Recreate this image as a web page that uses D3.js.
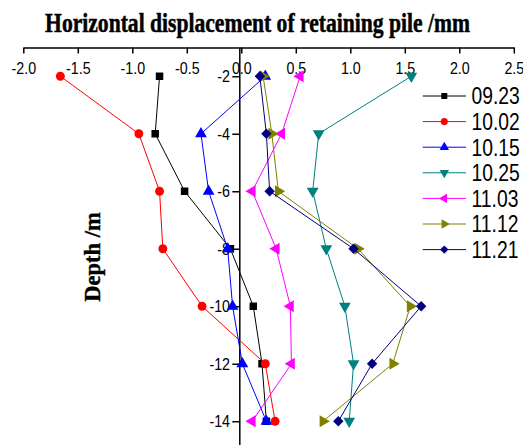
<!DOCTYPE html>
<html>
<head>
<meta charset="utf-8">
<script src="https://cdn.jsdelivr.net/npm/d3@7"></script>
<style>
  body { margin: 0; background: #fff; }
  svg { display: block; }
</style>
</head>
<body>
<script>
// depth readings and the seven survey dates
var depths = [-2, -4, -6, -8, -10, -12, -14];
var dates = ["09.23", "10.02", "10.15", "10.25", "11.03", "11.12", "11.21"];

var s0923 = [-0.75, -0.79, -0.52, -0.10, 0.11, 0.19, 0.23];
var s1002 = [-1.66, -0.94, -0.75, -0.72, -0.36, 0.22, 0.31];
var s1015 = [0.22, -0.37, -0.30, -0.125, -0.08, 0.01, 0.23];
var s1025 = [1.56, 0.71, 0.655, 0.78, 0.95, 1.03, 0.99];
var s1103 = [0.54, 0.37, 0.10, 0.32, 0.45, 0.46, 0.10];
var s1112 = [0.20, 0.28, 0.34, 1.07, 1.55, 1.39, 0.75];
var s1121 = [0.17, 0.23, 0.26, 1.03, 1.65, 1.20, 0.89];

var xTicks = [-2.0, -1.5, -1.0, -0.5, 0.0, 0.5, 1.0, 1.5, 2.0, 2.5];
var yTicks = [-2, -4, -6, -8, -10, -12, -14];

var allSeries = [s0923, s1002, s1015, s1025, s1103, s1112, s1121];
var colors = ["#000000", "#ff0000", "#0000ff", "#008080", "#ff00ff", "#808000", "#000080"];
var shapes = ["square", "circle", "up", "down", "left", "right", "diamond"];

var W = 523, H = 445;
var svg = d3.select("body").append("svg").attr("width", W).attr("height", H);

var x = d3.scaleLinear().domain([-2, 2.5]).range([23.3, 513.8]);
var y = d3.scaleLinear().domain([-1, -15]).range([47.5, 450]);

var sansFont = "'Liberation Sans', Arial, sans-serif";
var serifFont = "'Liberation Serif', 'Times New Roman', serif";
var squeeze = 0.84; // the original text is narrow

// marker path for each shape, sized in px
function marker(shape, k) {
	if (shape == "square") return d3.symbol(d3.symbolSquare, 56 * k * k)();
	if (shape == "circle") return d3.symbol(d3.symbolCircle, 62 * k * k)();
	if (shape == "diamond") return d3.symbol(d3.symbolSquare, 54 * k * k)();
	return d3.symbol(d3.symbolTriangle, 60 * k * k)();
}
function rot(shape) {
	if (shape == "down") return 180;
	if (shape == "left") return -90;
	if (shape == "right") return 90;
	if (shape == "diamond") return 45;
	return 0;
}

// title
svg.append("text")
	.attr("transform", "translate(257.5,31.5)")
	.attr("text-anchor", "middle")
	.style("font-family", serifFont)
	.style("font-weight", "bold")
	.style("font-size", "27px")
	.attr("stroke", "#000")
	.attr("stroke-width", 0.5)
	.text("Horizontal displacement of retaining pile /mm")
	.each(function() {
		var w = this.getComputedTextLength();
		d3.select(this).attr("transform", "translate(257.5,31.5) scale(" + (425 / w) + ",1)");
	});

// y label
svg.append("text")
	.attr("transform", "translate(100,257) rotate(-90)")
	.attr("text-anchor", "middle")
	.style("font-family", serifFont)
	.style("font-weight", "bold")
	.style("font-size", "22.5px")
	.attr("stroke", "#000")
	.attr("stroke-width", 0.4)
	.text("Depth /m");

// top axis
var gx = svg.append("g")
	.attr("transform", "translate(0," + y(-1) + ")")
	.call(d3.axisBottom(x).tickValues(xTicks).tickFormat(d3.format(".1f")).tickSize(6).tickPadding(8).tickSizeOuter(0));

// left axis sits just left of zero
var gy = svg.append("g")
	.attr("transform", "translate(" + (x(0) - 2) + ",0)")
	.call(d3.axisLeft(y).tickValues(yTicks).tickSize(7).tickPadding(4).tickSizeOuter(0));

[gx, gy].forEach(function(g) {
	g.select(".domain").attr("stroke", "#000").attr("stroke-width", 1.5);
	g.selectAll(".tick line").attr("stroke", "#000").attr("stroke-width", 1.5);
	g.selectAll(".tick text")
		.attr("fill", "#000")
		.style("font-family", sansFont)
		.style("font-size", "17px")
		.attr("transform", "scale(" + squeeze + ",1)");
});
gx.selectAll(".tick text").text(function(d) { return d3.format(".1f")(d).replace("\u2212", "-"); });
gy.selectAll(".tick text").text(function(d) { return String(d); });

// series
var line = d3.line()
	.x(function(d) { return x(d[0]); })
	.y(function(d) { return y(d[1]); });

for (var i = 0; i < allSeries.length; i++) {
	var pts = allSeries[i].map(function(v, j) { return [v, depths[j]]; });
	var g = svg.append("g");
	g.append("path")
		.attr("d", line(pts))
		.attr("fill", "none")
		.attr("stroke", colors[i])
		.attr("stroke-width", 1);
	g.selectAll("path.m")
		.data(pts)
		.enter()
		.append("path")
		.attr("class", "m")
		.attr("d", marker(shapes[i], 1))
		.attr("transform", function(d) { return "translate(" + x(d[0]) + "," + y(d[1]) + ") rotate(" + rot(shapes[i]) + ")"; })
		.attr("fill", colors[i]);
}

// legend
var leg = svg.append("g");
for (var i = 0; i < dates.length; i++) {
	var ly = 96 + i * 25.6;
	leg.append("line")
		.attr("x1", 422.7).attr("x2", 466)
		.attr("y1", ly).attr("y2", ly)
		.attr("stroke", colors[i]).attr("stroke-width", 1);
	leg.append("path")
		.attr("d", marker(shapes[i], 0.8))
		.attr("transform", "translate(444.3," + ly + ") rotate(" + rot(shapes[i]) + ")")
		.attr("fill", colors[i]);
	leg.append("text")
		.attr("transform", "translate(471.5," + (ly + 8.3) + ") scale(" + squeeze + ",1)")
		.style("font-family", sansFont)
		.style("font-size", "23px")
		.attr("fill", "#000")
		.text(dates[i]);
}
</script>
</body>
</html>
